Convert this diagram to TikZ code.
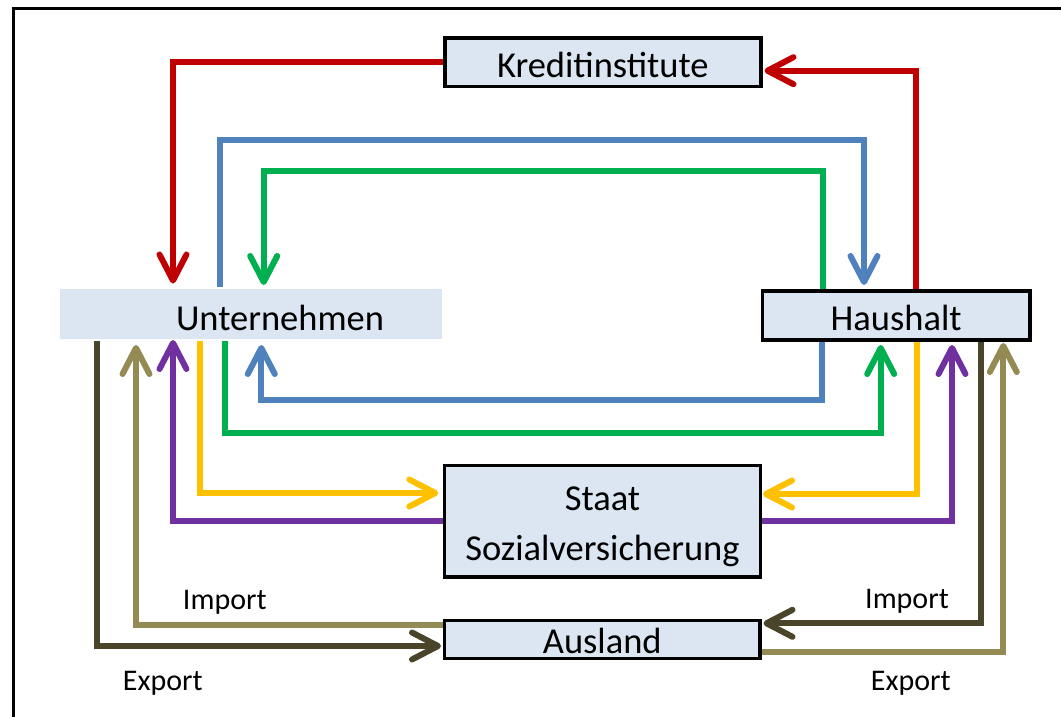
\documentclass[tikz,border=0pt]{standalone}
\usepackage{fontspec}
\setmainfont{Carlito}
\usetikzlibrary{arrows.meta}

\definecolor{boxfill}{HTML}{DCE6F2}
\definecolor{flowred}{HTML}{C00000}
\definecolor{flowblue}{HTML}{4F81BD}
\definecolor{flowgreen}{HTML}{00B050}
\definecolor{flowyellow}{HTML}{FFC000}
\definecolor{flowpurple}{HTML}{7030A0}
\definecolor{flowdark}{HTML}{4A452A}
\definecolor{flowkhaki}{HTML}{948A54}

\pgfdeclarelayer{flows}
\pgfsetlayers{flows,main}

\tikzset{
  sector/.style={fill=boxfill, draw=black, line width=3.5pt, inner sep=0pt,
    font=\fontsize{36.5}{50}\selectfont, text height=30pt, text depth=0pt},
  flow/.style={line width=6pt, line join=miter,
    -{Straight Barb[length=26pt,width=27pt,round]}},
  tradelabel/.style={font=\fontsize{30}{36}\selectfont, inner sep=0pt, anchor=base},
}

\begin{document}
\begin{tikzpicture}[x=1pt,y=-1pt]
\useasboundingbox (0,0) rectangle (1061,716);
\begin{scope}
  \clip (0,0) rectangle (1061,716);
  \draw[line width=3.3pt] (13.5,8.3) rectangle (1100,760);
\end{scope}

% sectors
\node[sector, minimum width=316pt, minimum height=48.5pt] (kredit) at (602.8,62) {Kreditinstitute};
\node[sector, draw=none, minimum width=382pt, minimum height=50pt, text height=32pt] (unt) at (251,314) {\hspace*{58pt}Unternehmen};
\node[sector, minimum width=267.5pt, minimum height=49pt] (haus) at (896.2,315.3) {Haushalt};
\node[sector, line width=3.3pt, minimum width=315.7pt, minimum height=111.4pt,
      text width=315pt, align=center, text height=30pt, text depth=52.6pt] (staat) at (602.5,521.3) {Staat\\Sozialversicherung};
\node[sector, line width=3.3pt, minimum width=315.4pt, minimum height=37.7pt, text depth=2.4pt] (ausland) at (602.3,639.5) {Ausland};

% columns beside Unternehmen
\coordinate (xExU) at (97,0);
\coordinate (xImU) at (136,0);
\coordinate (xPuU) at (173,0);
\coordinate (xYeU) at (200,0);
\coordinate (xBlU) at (219.7,0);
\coordinate (xGrU) at (224.8,0);
\coordinate (xBlU2) at (261.3,0);
\coordinate (xGrU2) at (263.7,0);
% columns beside Haushalt
\coordinate (xBlH) at (821.7,0);
\coordinate (xGrH) at (822.7,0);
\coordinate (xBlH2) at (864,0);
\coordinate (xGrH2) at (880.7,0);
\coordinate (xRdH) at (915.7,0);
\coordinate (xYeH) at (917,0);
\coordinate (xPuH) at (952,0);
\coordinate (xImH) at (980.7,0);
\coordinate (xExH) at (1003.3,0);
\coordinate (xKrE) at (764.5,0);
% rows
\coordinate (yRdK) at (0,70.7);
\coordinate (yBlT) at (0,139.5);
\coordinate (yGrT) at (0,170.7);
\coordinate (yTipT) at (0,283.5);
\coordinate (yTipT2) at (0,285);
\coordinate (yTipPu) at (0,340);
\coordinate (yTipB) at (0,345);
\coordinate (yTipB2) at (0,343);
\coordinate (yBlB) at (0,400);
\coordinate (yGrB) at (0,432.7);
\coordinate (yImL) at (0,625);
\coordinate (yExR) at (0,651.7);
% arrow tips at the side boxes
\coordinate (tipYeL) at (438.3,493);
\coordinate (tipYeR) at (763,494);
\coordinate (tipExL) at (441,646);
\coordinate (tipImR) at (763.5,623.3);

\begin{pgfonlayer}{flows}
  % credit
  \draw[flow, flowred] (kredit.west) -| (xPuU |- yTipT);
  \draw[flow, flowred] (haus.north -| xRdH) |- (xKrE |- yRdK);
  % goods and factor income
  \draw[flow, flowblue] (unt.north -| xBlU) |- (xBlH2 |- yBlT) -- (xBlH2 |- yTipT2);
  \draw[flow, flowgreen] (haus.north -| xGrH) |- (xGrU2 |- yGrT) -- (xGrU2 |- yTipT2);
  \draw[flow, flowblue] (haus.south -| xBlH) |- (xBlU2 |- yBlB) -- (xBlU2 |- yTipB);
  \draw[flow, flowgreen] (unt.south -| xGrU) |- (xGrH2 |- yGrB) -- (xGrH2 |- yTipB);
  % taxes and transfers
  \draw[flow, flowyellow] (unt.south -| xYeU) |- (tipYeL);
  \draw[flow, flowyellow] (haus.south -| xYeH) |- (tipYeR);
  \draw[flow, flowpurple] (staat.west) -| (xPuU |- yTipPu);
  \draw[flow, flowpurple] (staat.east) -| (xPuH |- yTipB);
  % foreign trade
  \draw[flow, flowdark] (unt.south -| xExU) |- (tipExL);
  \draw[flow, flowkhaki] (ausland.west |- yImL) -| (xImU |- yTipB);
  \draw[flow, flowdark] (haus.south -| xImH) |- (tipImR);
  \draw[flow, flowkhaki] (ausland.east |- yExR) -| (xExH |- yTipB2);
\end{pgfonlayer}

% trade labels
\node[tradelabel] (imL) at (224.8,609.3) {Import};
\node[tradelabel] (exL) at (162.8,690) {Export};
\node[tradelabel] (imR) at (907,608.3) {Import};
\node[tradelabel] (exR) at (910.8,690) {Export};
\end{tikzpicture}
\end{document}
